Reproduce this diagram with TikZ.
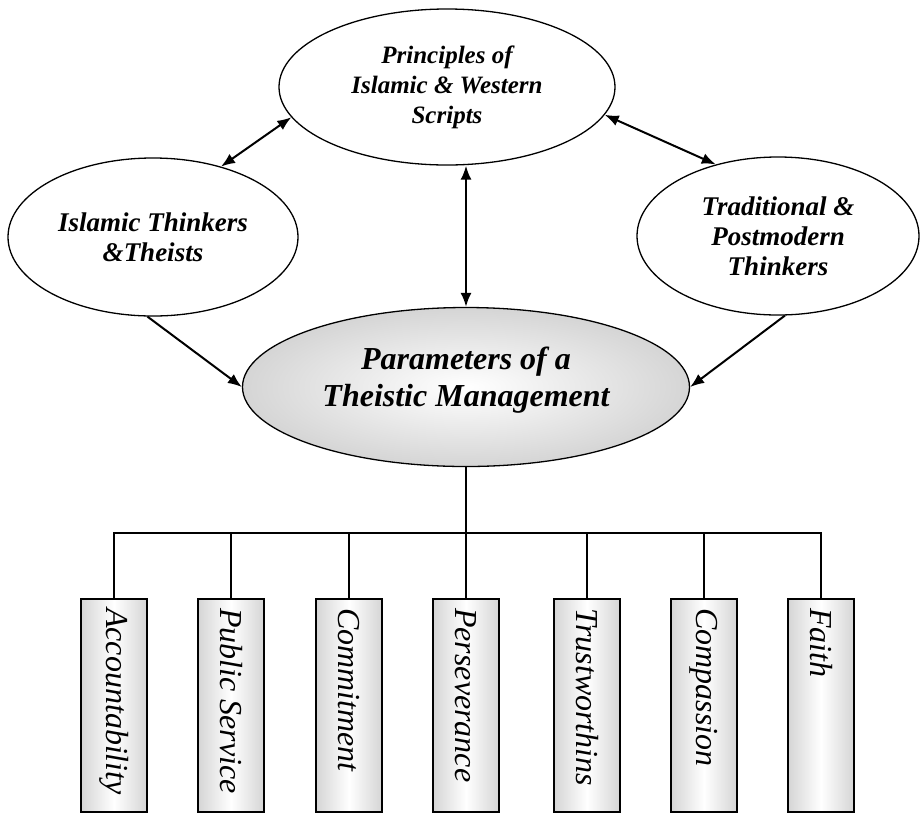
\documentclass[tikz,border=0pt]{standalone}
\usepackage{fontspec}
\setmainfont{Liberation Serif}
\usepackage{tikz}
\usetikzlibrary{shapes.geometric}
\usetikzlibrary{arrows.meta}

\begin{document}
\begin{tikzpicture}[x=1pt,y=-1pt,
    bubble/.style={draw, ellipse, line width=1.3pt, inner sep=0pt, align=center,
      font=\fontsize{25}{30}\selectfont\bfseries\itshape},
    sidebubble/.style={bubble, minimum height=158pt,
      font=\fontsize{27}{30}\selectfont\bfseries\itshape},
    link/.style={line width=2pt, {Latex[length=14pt,width=11pt]}-{Latex[length=14pt,width=11pt]}},
    feed/.style={line width=2pt, -{Latex[length=14pt,width=11pt]}},
    pillar/.style={draw, line width=1.8pt, minimum width=66pt, minimum height=213pt,
      anchor=north, left color=gray!33, right color=gray!33, middle color=white},
    pillartext/.style={rotate=-90, anchor=west, inner sep=10pt,
      font=\fontsize{32}{36}\selectfont\itshape},
    branch/.style={line width=1.5pt}]
  \useasboundingbox (0,0) rectangle (921,812);

  \node[bubble, minimum width=336pt, minimum height=156pt] (princ) at (447,87)
    {Principles of\\Islamic \& Western\\Scripts};
  \node[sidebubble, minimum width=290pt] (islam) at (153,237)
    {Islamic Thinkers\\\&Theists};
  \node[sidebubble, minimum width=282pt] (trad) at (778,236)
    {Traditional \&\\Postmodern\\Thinkers};
  \node[bubble, minimum width=447pt, minimum height=159pt,
    inner color=white, outer color=gray!33,
    font=\fontsize{32}{37}\selectfont\bfseries\itshape] (param) at (466,387)
    {Parameters of a\\Theistic Management\rule[-21pt]{0pt}{0pt}};

  \draw[link] (islam.46) -- (princ.191);
  \draw[link] (princ.350) -- (trad.131);
  \draw[link] (param.north |- princ.south) -- (param.north);
  \draw[feed] (islam.266) -- (param.west);
  \draw[feed] (trad.275) -- (param.east);

  \node[pillar] (acc) at (114,598) {};
  \node[pillar] (pub) at (231,598) {};
  \node[pillar] (com) at (349,598) {};
  \node[pillar] (per) at (466,598) {};
  \node[pillar] (tru) at (587,598) {};
  \node[pillar] (cmp) at (704,598) {};
  \node[pillar] (fai) at (821,598) {};

  \node[pillartext] (acct) at (acc.north) {Accountability};
  \node[pillartext] (pubt) at (pub.north) {Public Service};
  \node[pillartext] (comt) at (com.north) {Commitment};
  \node[pillartext] (pert) at (per.north) {Perseverance};
  \node[pillartext] (trut) at (tru.north) {Trustworthins};
  \node[pillartext] (cmpt) at (cmp.north) {Compassion};
  \node[pillartext] (fait) at (fai.north) {Faith};

  \coordinate (hub) at (466,533);
  \draw[branch] (param.south) -- (hub);
  \draw[branch] (acc.north) -- (acc.north |- hub) -- (fai.north |- hub) -- (fai.north);
  \draw[branch] (pub.north) -- (pub.north |- hub);
  \draw[branch] (com.north) -- (com.north |- hub);
  \draw[branch] (per.north) -- (per.north |- hub);
  \draw[branch] (tru.north) -- (tru.north |- hub);
  \draw[branch] (cmp.north) -- (cmp.north |- hub);
\end{tikzpicture}
\end{document}
